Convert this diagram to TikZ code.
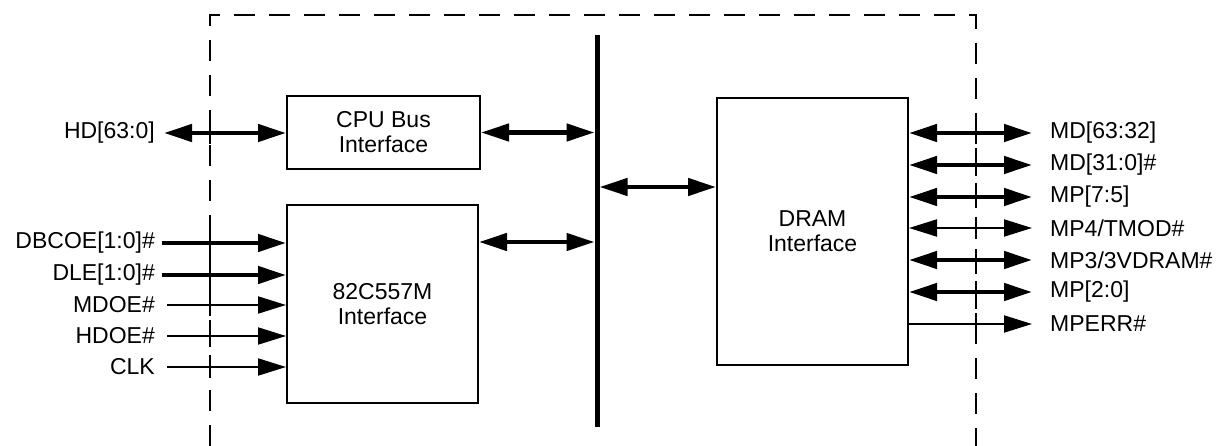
\documentclass[tikz,border=0pt]{standalone}
\usepackage{fontspec}
\setmainfont{Liberation Sans}
\usetikzlibrary{arrows.meta,calc}
\begin{document}
\begin{tikzpicture}[x=1pt,y=-1pt,
  box/.style={draw,line width=2pt,inner sep=0pt,align=center,font=\fontsize{23}{25}\selectfont},
  lbl/.style={inner sep=0pt,font=\fontsize{23}{25}\selectfont},
  thk/.style={line width=4.5pt},
  thn/.style={line width=2pt},
  tipR/.style={-{Triangle[length=28pt,width=17pt]}},
  tipB/.style={{Triangle[length=28pt,width=17pt]}-{Triangle[length=28pt,width=17pt]}},
  border/.style={line width=2.5pt,dash pattern=on 21pt off 14pt},
  tick/.style={line width=2.5pt}]
\useasboundingbox (0,0) rectangle (1222,446);

% dashed outline
\draw[border] (210,446) -- (210,15) -- (976,15) -- (976,446);

% bus
\coordinate (bt) at (597,35);
\coordinate (bb) at (597,427);
\draw[line width=5pt] (bt) -- (bb);

% boxes
\node[box,minimum width=193pt,minimum height=73pt] (cpu) at (383.5,132.5) {CPU Bus\\Interface};
\node[box,minimum width=191pt,minimum height=198pt] (b82) at (382.5,304) {82C557M\\Interface};
\node[box,minimum width=191pt,minimum height=267pt] (dram) at (812.5,231.5) {DRAM\\Interface};

% left labels
\node[lbl,anchor=east] (hd) at (155,133) {HD[63:0]};
\node[lbl,anchor=east] (dbcoe) at (155,243) {DBCOE[1:0]\#};
\node[lbl,anchor=east] (dle) at (155,275) {DLE[1:0]\#};
\node[lbl,anchor=east] (mdoe) at (155,305) {MDOE\#};
\node[lbl,anchor=east] (hdoe) at (155,336) {HDOE\#};
\node[lbl,anchor=east] (clk) at (155,367) {CLK};

% right labels
\node[lbl,anchor=west] (md1) at (1050,133) {MD[63:32]};
\node[lbl,anchor=west] (md2) at (1050,165) {MD[31:0]\#};
\node[lbl,anchor=west] (mp75) at (1050,197) {MP[7:5]};
\node[lbl,anchor=west] (mp4) at (1050,228) {MP4/TMOD\#};
\node[lbl,anchor=west] (mp3) at (1050,260) {MP3/3VDRAM\#};
\node[lbl,anchor=west] (mp20) at (1050,292) {MP[2:0]};
\node[lbl,anchor=west] (mperr) at (1050,324) {MPERR\#};

% left connectors
\draw[thk,tipB,shorten <=9pt] (hd.east) -- (hd.east -| cpu.west);
\draw[thk,tipR,shorten <=7pt] (dbcoe.east) -- (dbcoe.east -| b82.west);
\draw[thk,tipR,shorten <=7pt] (dle.east) -- (dle.east -| b82.west);
\draw[thn,tipR,shorten <=12pt] (mdoe.east) -- (mdoe.east -| b82.west);
\draw[thn,tipR,shorten <=12pt] (hdoe.east) -- (hdoe.east -| b82.west);
\draw[thn,tipR,shorten <=12pt] (clk.east) -- (clk.east -| b82.west);

% bus connectors
\draw[thk,tipB,shorten >=2.5pt] (cpu.east) -- (cpu.east -| bt);
\draw[thk,tipB,shorten >=2.5pt] (b82.east |- 0,242) -- (bt |- 0,242);
\draw[thk,tipB,shorten <=2.5pt] (bt |- 0,187) -- (dram.west |- 0,187);

% right connectors
\draw[thk,tipB,shorten >=18pt] (dram.east |- md1.west) -- (md1.west);
\draw[thk,tipB,shorten >=18pt] (dram.east |- md2.west) -- (md2.west);
\draw[thk,tipB,shorten >=18pt] (dram.east |- mp75.west) -- (mp75.west);
\draw[thn,tipB,shorten >=18pt] (dram.east |- mp4.west) -- (mp4.west);
\draw[thk,tipB,shorten >=18pt] (dram.east |- mp3.west) -- (mp3.west);
\draw[thk,tipB,shorten >=18pt] (dram.east |- mp20.west) -- (mp20.west);
\draw[thn,tipR,shorten >=18pt] (dram.east |- mperr.west) -- (mperr.west);

% ticks where signals cross the outline
\foreach \y in {133,243,275,305,336,367}
  \draw[tick] (210,\y-11) -- (210,\y+11);
\foreach \y in {133,165,197,228,260,292,324}
  \draw[tick] (976,\y-11) -- (976,\y+11);
\end{tikzpicture}
\end{document}
